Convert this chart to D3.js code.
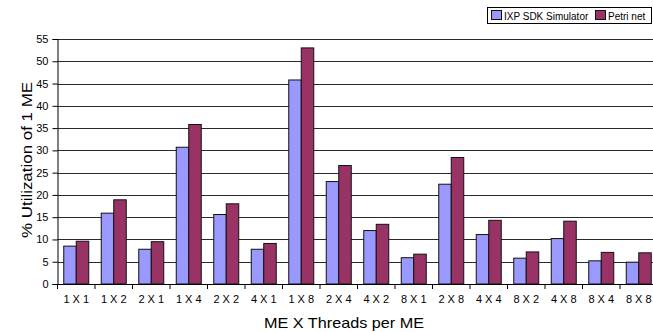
<!DOCTYPE html>
<html>
<head>
<meta charset="utf-8">
<script src="https://cdn.jsdelivr.net/npm/d3@7"></script>
<style>
  html, body { margin: 0; padding: 0; background: #fff; }
  svg { display: block; font-family: "Liberation Sans", Arial, sans-serif; }
</style>
</head>
<body>
<svg id="chart" width="653" height="332"></svg>
<script>
// Configurations: MEs x threads per ME
const categories = ["1 X 1", "1 X 2", "2 X 1", "1 X 4", "2 X 2", "4 X 1", "1 X 8", "2 X 4",
                    "4 X 2", "8 X 1", "2 X 8", "4 X 4", "8 X 2", "4 X 8", "8 X 4", "8 X 8"];
const seriesNames = ["IXP SDK Simulator", "Petri net"];
const simulatorValues = [8.5, 15.9, 7.8, 30.7, 15.6, 7.8, 45.8, 23.0, 12.0, 5.9, 22.4, 11.1, 5.8, 10.2, 5.2, 4.9];
const petriValues     = [9.6, 18.9, 9.5, 35.8, 18.0, 9.1, 53.0, 26.6, 13.4, 6.7, 28.4, 14.3, 7.2, 14.1, 7.1, 7.0];
const yTicks = [0, 5, 10, 15, 20, 25, 30, 35, 40, 45, 50, 55];
const colors = ["#9999ff", "#993366"];

const svg = d3.select("#chart");
const plotLeft = 57.5, plotRight = 657.5, plotTop = 39, plotBottom = 284;

const x = d3.scaleBand().domain(categories).range([plotLeft, plotRight]).paddingInner(0).paddingOuter(0);
const bw = x.bandwidth();
const xs = d3.scaleBand().domain(seriesNames).range([bw / 6, bw * 5 / 6]);
const y = d3.scaleLinear().domain([0, 55]).range([plotBottom, plotTop]);

// horizontal gridlines
svg.append("g")
  .selectAll("line")
  .data(yTicks.filter(d => d > 0))
  .join("line")
  .attr("x1", plotLeft).attr("x2", 653)
  .attr("y1", d => Math.round(y(d)) + 0.5).attr("y2", d => Math.round(y(d)) + 0.5)
  .attr("stroke", "#2a2a2a").attr("stroke-width", 1);

// bars
const rows = categories.map((c, i) => ({ cat: c, values: [simulatorValues[i], petriValues[i]] }));
const groups = svg.append("g").selectAll("g")
  .data(rows).join("g")
  .attr("transform", d => `translate(${x(d.cat)},0)`);
groups.selectAll("rect")
  .data(d => d.values.map((v, k) => ({ name: seriesNames[k], v, k })))
  .join("rect")
  .attr("x", d => xs(d.name))
  .attr("width", xs.bandwidth())
  .attr("y", d => y(d.v))
  .attr("height", d => plotBottom - y(d.v))
  .attr("fill", d => colors[d.k])
  .attr("stroke", "#111").attr("stroke-width", 1);

// y axis
const yAxis = svg.append("g")
  .attr("transform", `translate(${plotLeft},0)`)
  .call(d3.axisLeft(y).tickValues(yTicks).tickSize(5).tickPadding(4).tickFormat(d3.format("d")));
yAxis.select(".domain").attr("stroke", "#000");
yAxis.selectAll(".tick line").attr("stroke", "#000");
yAxis.selectAll("text").attr("font-size", 11).attr("fill", "#000")
  .attr("font-family", "Liberation Sans, Arial, sans-serif");

// x axis: ticks at category boundaries
const xAxisG = svg.append("g");
xAxisG.append("line")
  .attr("x1", plotLeft).attr("x2", 653).attr("y1", plotBottom + 0.5).attr("y2", plotBottom + 0.5)
  .attr("stroke", "#000");
xAxisG.selectAll("line.tk")
  .data(categories)
  .join("line").attr("class", "tk")
  .attr("x1", d => x(d)).attr("x2", d => x(d))
  .attr("y1", plotBottom).attr("y2", plotBottom + 5)
  .attr("stroke", "#000");
xAxisG.selectAll("text")
  .data(categories)
  .join("text")
  .attr("x", d => x(d) + bw / 2)
  .attr("y", 303)
  .attr("text-anchor", "middle")
  .attr("font-size", 11)
  .text(d => d);

// axis titles
svg.append("text")
  .attr("x", 344).attr("y", 328)
  .attr("text-anchor", "middle")
  .attr("font-size", 15)
  .attr("textLength", 160).attr("lengthAdjust", "spacingAndGlyphs")
  .text("ME X Threads per ME");
svg.append("text")
  .attr("transform", "translate(32,160) rotate(-90)")
  .attr("text-anchor", "middle")
  .attr("font-size", 15)
  .attr("textLength", 156).attr("lengthAdjust", "spacingAndGlyphs")
  .text("% Utilization of 1 ME");

// legend
const lg = svg.append("g");
lg.append("rect")
  .attr("x", 487.5).attr("y", 7.5).attr("width", 164).attr("height", 16)
  .attr("fill", "#fff").attr("stroke", "#000");
const legendPos = [491, 595];
seriesNames.forEach((n, k) => {
  lg.append("rect")
    .attr("x", legendPos[k] + 0.5).attr("y", 10.5).attr("width", 10).attr("height", 9)
    .attr("fill", colors[k]).attr("stroke", "#111");
  lg.append("text")
    .attr("x", legendPos[k] + 13).attr("y", 19.5)
    .attr("font-size", 10)
    .text(n);
});
</script>
</body>
</html>
